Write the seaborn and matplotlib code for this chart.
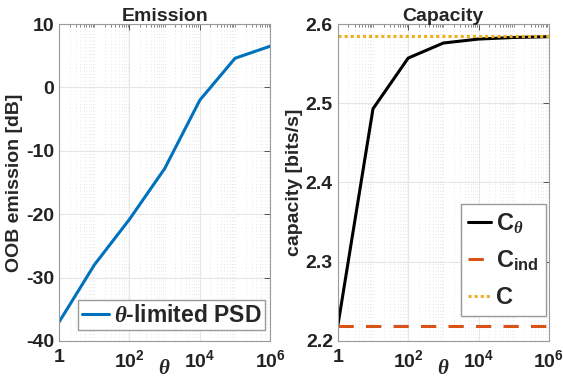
import numpy as np
import pandas as pd
import matplotlib
matplotlib.use("Agg")
import matplotlib.pyplot as plt
import matplotlib.ticker as mticker
import seaborn as sns

# data
theta = [1, 1e1, 1e2, 1e3, 1e4, 1e5, 1e6]
emission_db = [-37.0, -28.0, -20.8, -12.8, -2.0, 4.6, 6.5]
cap_theta = [2.219, 2.493, 2.557, 2.576, 2.581, 2.583, 2.584]
cap_ind = 2.219
cap_full = 2.585

sns.set_theme(style="white")
plt.rcParams['font.family'] = ['Liberation Sans', 'DejaVu Sans']
plt.rcParams['font.weight'] = 'bold'
plt.rcParams['axes.unicode_minus'] = False
plt.rcParams['mathtext.fontset'] = 'custom'
plt.rcParams['mathtext.rm'] = 'Liberation Sans:bold'
plt.rcParams['mathtext.bf'] = 'Liberation Sans:bold'
plt.rcParams['mathtext.it'] = 'Liberation Serif:italic'

fig, (ax1, ax2) = plt.subplots(1, 2, figsize=(5.63, 3.81), dpi=100)
fig.subplots_adjust(left=0.105, right=0.975, top=0.937, bottom=0.105, wspace=0.32)

df_e = pd.DataFrame({'theta': theta, 'emission': emission_db})
sns.lineplot(data=df_e, x='theta', y='emission', ax=ax1, color='#0072BD',
             linewidth=2.2, label=r'$\theta$-limited PSD')

df_c = pd.DataFrame({'theta': theta, 'cap': cap_theta,
                     'ind': [cap_ind] * len(theta), 'full': [cap_full] * len(theta)})
sns.lineplot(data=df_c, x='theta', y='cap', ax=ax2, color='black',
             linewidth=2.2, label=r'C$_{\theta}$')
sns.lineplot(data=df_c, x='theta', y='ind', ax=ax2, color='#D95319',
             linewidth=2.2, linestyle=(0, (5, 4)), label=r'C$_{\mathbf{ind}}$')
sns.lineplot(data=df_c, x='theta', y='full', ax=ax2, color='#EDB120',
             linewidth=2.2, linestyle=(0, (1, 1)), label='C')


def style_axes(ax):
    ax.set_xscale('log')
    ax.set_xlim(1, 1e6)
    ax.xaxis.set_major_locator(mticker.FixedLocator([1, 1e2, 1e4, 1e6]))
    ax.xaxis.set_major_formatter(mticker.FixedFormatter(
        ['1', r'$\mathbf{10^{2}}$', r'$\mathbf{10^{4}}$', r'$\mathbf{10^{6}}$']))
    ax.xaxis.set_minor_locator(mticker.LogLocator(base=10, subs=np.arange(1, 10), numticks=20))
    ax.xaxis.set_minor_formatter(mticker.NullFormatter())
    ax.grid(True, which='major', axis='both', color='#e6e6e6', linewidth=0.8, linestyle='-')
    ax.grid(True, which='minor', axis='x', color='#dedede', linewidth=0.6, linestyle=(0, (1, 3)))
    ax.tick_params(which='both', direction='in', top=True, right=True, colors='#555555',
                   labelcolor='#222222', labelsize=14)
    ax.tick_params(axis='x', which='major', pad=6)
    ax.tick_params(which='major', length=4, width=0.7)
    ax.tick_params(which='minor', length=2, width=0.5)
    for s in ax.spines.values():
        s.set_color('#9a9a9a')
        s.set_linewidth(0.8)
    ax.set_xlabel(r'$\theta$', fontsize=15, labelpad=-9)
    for lab in ax.get_xticklabels() + ax.get_yticklabels():
        lab.set_fontweight('bold')


style_axes(ax1)
ax1.set_ylim(-40, 10)
ax1.set_yticks([-40, -30, -20, -10, 0, 10])
ax1.set_ylabel('OOB emission [dB]', fontsize=14, fontweight='bold', labelpad=2)
ax1.set_title('Emission', fontsize=14, fontweight='bold', pad=2)
leg1 = ax1.legend(loc='lower right', bbox_to_anchor=(0.98, 0.03), borderaxespad=0.05,
                  handlelength=1.2, handletextpad=0.2, borderpad=0.15, fancybox=False,
                  framealpha=1, prop={'size': 16.5, 'weight': 'bold'})
leg1.get_frame().set_edgecolor('#9a9a9a')

style_axes(ax2)
ax2.set_ylim(2.2, 2.6)
ax2.set_yticks([2.2, 2.3, 2.4, 2.5, 2.6])
ax2.yaxis.set_major_formatter(mticker.FormatStrFormatter('%.1f'))
for lab in ax2.get_yticklabels():
    lab.set_fontweight('bold')
ax2.set_ylabel('capacity [bits/s]', fontsize=14, fontweight='bold', labelpad=2)
ax2.set_title('Capacity', fontsize=14, fontweight='bold', pad=2)
leg2 = ax2.legend(loc='lower right', bbox_to_anchor=(0.992, 0.075), borderaxespad=0.05,
                  handlelength=1.0, handletextpad=0.2, borderpad=0.3, labelspacing=0.55,
                  fancybox=False, framealpha=1, prop={'size': 17, 'weight': 'bold'})
leg2.get_frame().set_edgecolor('#9a9a9a')

fig.savefig('out.png', dpi=100)
